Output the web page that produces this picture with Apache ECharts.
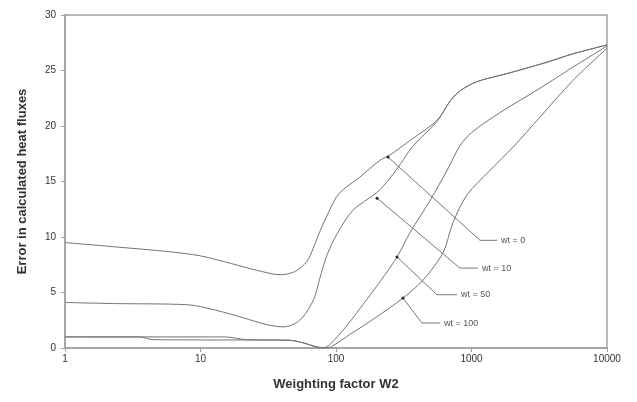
<!DOCTYPE html>
<html>
<head>
<meta charset="utf-8">
<script src="https://cdn.jsdelivr.net/npm/echarts@6/dist/echarts.min.js"></script>
<style>
  html, body { margin: 0; padding: 0; background: #fff; }
  #chart { width: 637px; height: 402px; }
</style>
</head>
<body>
<div id="chart"></div>
<script>
// x ticks of the log axis
const xTicks = [1, 10, 100, 1000, 10000];

// curves, [W2, error]
const wt0 = [[1, 9.5], [2.4, 9.1], [5.6, 8.7], [10, 8.3], [17, 7.6], [26, 7.0], [39, 6.6], [50, 6.9],
  [61, 7.8], [68, 9.0], [76, 10.5], [88, 12.2], [105, 13.9], [150, 15.4], [211, 16.9], [251, 17.4],
  [352, 18.7], [556, 20.5], [700, 22.3], [830, 23.2], [1100, 24.0], [1800, 24.7], [3500, 25.7],
  [5600, 26.5], [10000, 27.3]];
const wt10 = [[1, 4.1], [2.4, 4.0], [8, 3.9], [13, 3.4], [21, 2.7], [31, 2.1], [41, 1.9], [54, 2.5],
  [68, 4.3], [76, 6.3], [86, 8.4], [101, 10.2], [133, 12.4], [200, 14.0], [250, 15.3], [300, 16.6],
  [370, 18.2], [556, 20.4], [700, 22.3], [830, 23.2], [1100, 24.0], [1800, 24.7], [3500, 25.7],
  [5600, 26.5], [10000, 27.3]];
const wt50 = [[1, 1.0], [15, 1.0], [22, 0.75], [45, 0.7], [60, 0.4], [72, 0.05], [80, 0], [90, 0.3],
  [120, 2.0], [160, 4.0], [212, 6.0], [282, 8.2], [352, 10.4], [495, 13.3], [680, 16.3], [820, 18.2],
  [1000, 19.4], [1620, 21.2], [3200, 23.4], [5600, 25.3], [10000, 27.2]];
const wt100 = [[1, 1.0], [3.5, 1.0], [4.5, 0.75], [45, 0.7], [58, 0.45], [70, 0.15], [85, 0], [95, 0.2],
  [126, 1.2], [194, 2.7], [312, 4.5], [438, 6.1], [617, 8.6], [730, 11.3], [927, 13.8], [1370, 16.0],
  [2025, 18.1], [3200, 20.8], [5600, 24.1], [10000, 27.0]];

// callouts: point on curve, elbow, end of the flat stroke
const calloutNames = ['wt = 0', 'wt = 10', 'wt = 50', 'wt = 100'];
const callouts = [
  [[242, 17.2], [1156, 9.7], [1542, 9.7]],
  [[201, 13.5], [822, 7.2], [1117, 7.2]],
  [[282, 8.2], [556, 4.8], [782, 4.8]],
  [[312, 4.5], [431, 2.25], [586, 2.25]]
];

const curveStyle = { color: '#727272', width: 1 };
const curves = [wt0, wt10, wt50, wt100].map((d, i) => ({
  name: calloutNames[i],
  type: 'line',
  data: d,
  smooth: 0.3,
  showSymbol: false,
  lineStyle: curveStyle,
  z: 3
}));

const calloutSeries = callouts.map((pts, i) => ({
  type: 'line',
  data: pts.map((p, j) => j === 0
    ? { value: p, symbol: 'circle', symbolSize: 3 }
    : { value: p, symbol: 'none' }),
  showSymbol: true,
  itemStyle: { color: '#222' },
  lineStyle: { color: '#777', width: 1 },
  endLabel: {
    show: true,
    formatter: calloutNames[i],
    fontSize: 9,
    color: '#555',
    distance: 4,
    fontFamily: 'Liberation Sans'
  },
  z: 4
}));

const chart = echarts.init(document.getElementById('chart'));
chart.setOption({
  animation: false,
  textStyle: { fontFamily: 'Liberation Sans' },
  grid: {
    left: 65, right: 30, top: 15, bottom: 54,
    show: true, borderColor: '#a0a0a0', borderWidth: 1.5
  },
  xAxis: {
    type: 'log',
    logBase: 10,
    min: 1,
    max: 10000,
    name: 'Weighting factor W2',
    nameLocation: 'middle',
    nameGap: 30,
    nameTextStyle: { fontSize: 13, fontWeight: 'bold', color: '#333' },
    axisLine: { lineStyle: { color: '#a0a0a0', width: 1.5 } },
    axisTick: { show: true, length: 4, lineStyle: { color: '#a0a0a0' } },
    axisLabel: {
      fontSize: 10, color: '#333', margin: 6,
      formatter: v => String(xTicks.find(t => Math.abs(t - v) < 1e-6 * t) ?? v)
    },
    splitLine: { show: false },
    minorTick: { show: false }
  },
  yAxis: {
    type: 'value',
    min: 0,
    max: 30,
    interval: 5,
    name: 'Error in calculated heat fluxes',
    nameLocation: 'middle',
    nameGap: 36,
    nameTextStyle: { fontSize: 13, fontWeight: 'bold', color: '#333' },
    axisLine: { show: true, lineStyle: { color: '#a0a0a0', width: 1.5 } },
    axisTick: { show: true, length: 4, lineStyle: { color: '#a0a0a0' } },
    axisLabel: { fontSize: 10, color: '#333', margin: 9 },
    splitLine: { show: false }
  },
  series: curves.concat(calloutSeries)
});
</script>
</body>
</html>
